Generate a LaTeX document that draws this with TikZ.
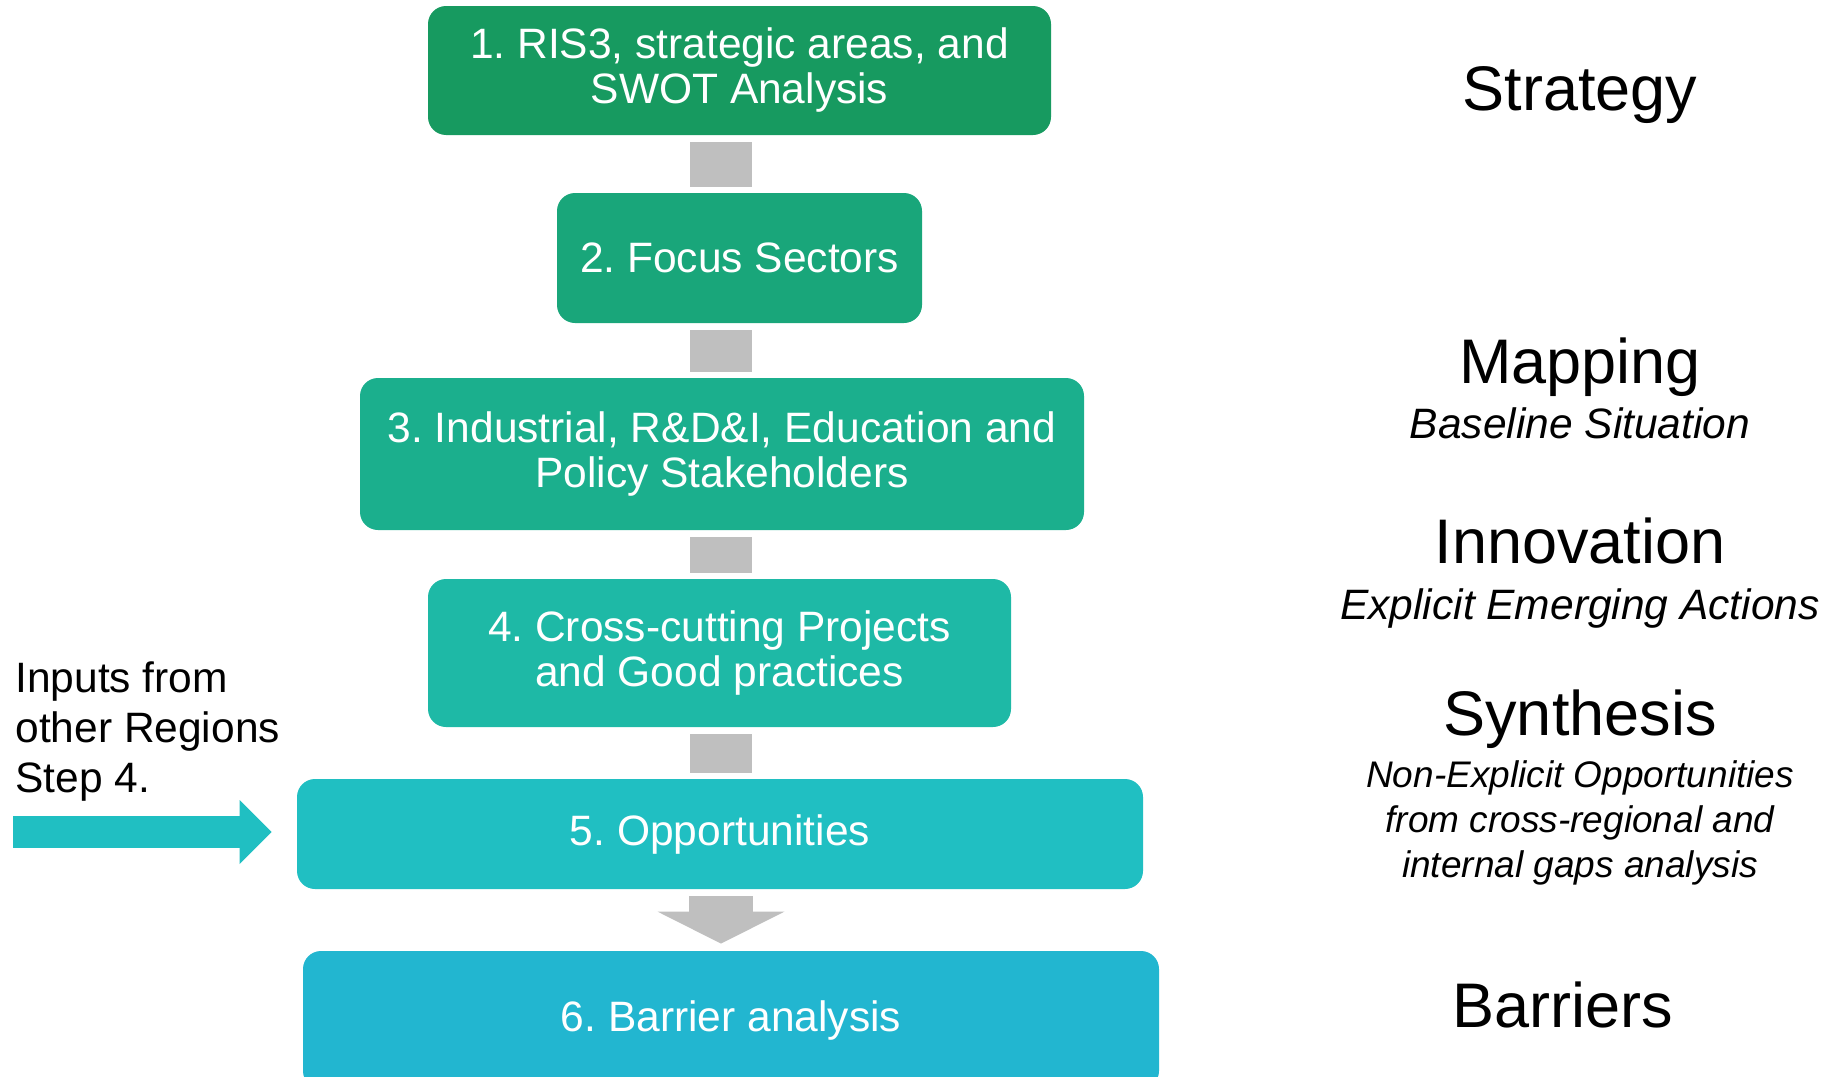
\documentclass[tikz,border=0pt]{standalone}
\usepackage{fontspec}
\setmainfont{Liberation Sans}
\usepackage{tikz}
\usepackage{xcolor}
\usetikzlibrary{positioning,arrows.meta,calc}
\frenchspacing

\definecolor{stepA}{HTML}{179A60}
\definecolor{stepB}{HTML}{19A67A}
\definecolor{stepC}{HTML}{1BAF8D}
\definecolor{stepD}{HTML}{1EB9A6}
\definecolor{stepE}{HTML}{20BFC2}
\definecolor{stepF}{HTML}{22B6D0}
\definecolor{linkgray}{HTML}{BFBFBF}

\tikzset{
  stepbox/.style={rectangle, rounded corners=9pt, text=white, align=center,
    inner sep=0pt, font=\fontsize{21.25}{22.5}\selectfont},
  link/.style={draw=linkgray, line width=31pt},
  heading/.style={anchor=base, font=\fontsize{31.5}{36}\selectfont},
  subheading/.style={anchor=base, font=\fontsize{21.25}{25}\selectfont\itshape},
}

\begin{document}
\begin{tikzpicture}[x=0.5pt,y=-0.5pt]
  \useasboundingbox (0,0) rectangle (1835,1076);
  % steps
  \node[stepbox, fill=stepA, minimum width=311.5pt, minimum height=64.5pt] (s1) at (739.5,70.5)
    {1. RIS3, strategic areas, and\\SWOT Analysis};
  \node[stepbox, fill=stepB, minimum width=182.5pt, minimum height=65pt] (s2) at (739.5,258)
    {2. Focus Sectors};
  \node[stepbox, fill=stepC, minimum width=362pt, minimum height=76pt] (s3) at (722,454)
    {3. Industrial, R\&D\&I, Education and\\Policy Stakeholders};
  \node[stepbox, fill=stepD, minimum width=291.5pt, minimum height=74pt] (s4) at (719.5,653)
    {4. Cross-cutting Projects\\and Good practices};
  \node[stepbox, fill=stepE, minimum width=423pt, minimum height=55pt] (s5) at (720,834)
    {5. Opportunities};
  \node[stepbox, fill=stepF, minimum width=428pt, minimum height=69pt] (s6) at (731,1020)
    {6. Barrier analysis};
  % links
  \coordinate (axis) at (721,0);
  \draw[link] ($(s1.south -| axis)+(0,7)$) -- ($(s2.north -| axis)+(0,-6)$);
  \draw[link] ($(s2.south -| axis)+(0,7)$) -- ($(s3.north -| axis)+(0,-6)$);
  \draw[link] ($(s3.south -| axis)+(0,7)$) -- ($(s4.north -| axis)+(0,-6)$);
  \draw[link] ($(s4.south -| axis)+(0,7)$) -- ($(s5.north -| axis)+(0,-6)$);
  \draw[link, line width=32pt, -{Triangle[length=16pt,width=63.5pt,line width=0pt]}]
    ($(s5.south -| axis)+(0,7)$) -- ($(s6.north -| axis)+(0,-7)$);
  % inputs
  \node[anchor=north west, align=left, inner sep=0pt, font=\fontsize{21.25}{25}\selectfont] (inputs) at (15,661)
    {Inputs from\\other Regions\\Step 4.};
  \coordinate (src) at (13,832);
  \draw[draw=stepE, line width=16pt, -{Triangle[length=16pt,width=32pt,line width=0pt]}]
    (src) -- ($(src -| s5.west)+(-25,0)$);
  % phases
  \node[heading] (strategy) at (1580,110) {Strategy};
  \node[heading] (mapping) at (1580,383) {Mapping};
  \node[subheading] (mappingsub) at (1580,438) {Baseline Situation};
  \node[heading] (innovation) at (1580,563) {Innovation};
  \node[subheading] (innovationsub) at (1580,619) {Explicit Emerging Actions};
  \node[heading] (synthesis) at (1580,735) {Synthesis};
  \node[anchor=north, align=center, inner sep=0pt, font=\fontsize{18.5}{22.5}\selectfont\itshape] (synthesissub) at (1580,760)
    {Non-Explicit Opportunities\\from cross-regional and\\internal gaps analysis};
  \node[heading] (barriers) at (1563,1027) {Barriers};
\end{tikzpicture}
\end{document}
